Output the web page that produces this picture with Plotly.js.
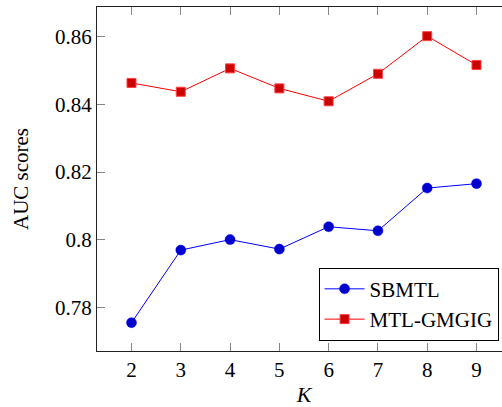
<!DOCTYPE html>
<html>
<head>
<meta charset="utf-8">
<script src="https://cdn.plot.ly/plotly-3.0.1.min.js"></script>
<style>
html,body{margin:0;padding:0;overflow:hidden;background:#fff;}
#chart{width:520px;height:407px;}
</style>
</head>
<body>
<div id="chart"></div>
<script>
var K = [2, 3, 4, 5, 6, 7, 8, 9];
var sbmtl = [0.7756, 0.7970, 0.8001, 0.7973, 0.8039, 0.8027, 0.8153, 0.8166];
var gmgig = [0.8463, 0.8437, 0.8506, 0.8447, 0.8409, 0.8490, 0.8601, 0.8516];
var seriesNames = ['SBMTL', 'MTL-GMGIG'];
var xTicks = [2, 3, 4, 5, 6, 7, 8, 9];
var yTicks = [0.78, 0.8, 0.82, 0.84, 0.86];
var yTickText = ['0.78', '0.8', '0.82', '0.84', '0.86'];

var font = 'Liberation Serif';

var traces = [
  {x: K, y: sbmtl, name: seriesNames[0], type: 'scatter', mode: 'lines+markers',
   line: {color: '#0000FF', width: 1},
   marker: {symbol: 'circle', size: 10, color: '#0000CC', line: {color: '#0000FF', width: 0.5}}},
  {x: K, y: gmgig, name: seriesNames[1], type: 'scatter', mode: 'lines+markers',
   line: {color: '#FF0000', width: 1},
   marker: {symbol: 'square', size: 9, color: '#CC0000', line: {color: '#FF4040', width: 1}}}
];

var layout = {
  width: 520, height: 407,
  margin: {l: 97, r: 9, t: 7, b: 56},
  paper_bgcolor: '#fff', plot_bgcolor: '#fff',
  font: {family: font, size: 20, color: '#000'},
  showlegend: true,
  legend: {x: 0.97, y: 0.03, xanchor: 'right', yanchor: 'bottom',
           bordercolor: '#000', borderwidth: 1, bgcolor: '#fff', itemwidth: 40,
           font: {family: font, size: 21, color: '#000'}, tracegroupgap: 0},
  xaxis: {range: [1.3, 9.7], tickvals: xTicks, ticktext: xTicks.map(String),
          ticks: 'inside', ticklen: 8, tickcolor: '#888', tickwidth: 1,
          showline: true, linecolor: '#222', linewidth: 1, mirror: 'ticks',
          showgrid: false, zeroline: false, tickfont: {family: font, size: 21, color: '#000'},
          title: {text: '<i>K</i>', font: {family: font, size: 22}, standoff: 16}},
  yaxis: {range: [0.76725, 0.8687], tickvals: yTicks, ticktext: yTickText,
          ticks: 'inside', ticklen: 8, tickcolor: '#888', tickwidth: 1,
          showline: true, linecolor: '#222', linewidth: 1, mirror: 'ticks',
          showgrid: false, zeroline: false, tickfont: {family: font, size: 21, color: '#000'},
          title: {text: 'AUC scores', font: {family: font, size: 21}, standoff: 20}}
};

Plotly.newPlot('chart', traces, layout, {displayModeBar: false, staticPlot: true});
</script>
</body>
</html>
